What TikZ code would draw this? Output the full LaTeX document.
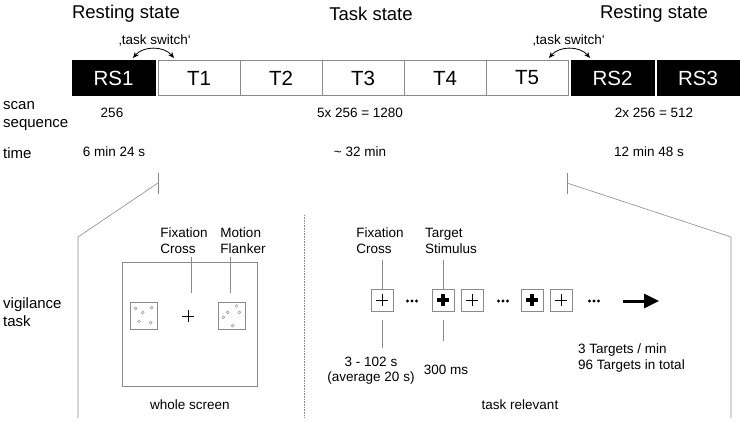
\documentclass[tikz,border=0pt]{standalone}
\usepackage{fontspec}
\setmainfont{Liberation Sans}
\usepackage{tikz}
\usetikzlibrary{arrows.meta,positioning}

\definecolor{linegray}{HTML}{8A8A8A}

\begin{document}
\begin{tikzpicture}[x=1pt,y=-1pt,
    title/.style={font=\fontsize{18.5}{20}\selectfont},
    rsbox/.style={draw=black,fill=black,text=white,minimum width=83pt,minimum height=35pt,inner sep=0pt,font=\fontsize{20.5}{22}\selectfont},
    taskbox/.style={draw=linegray,fill=white,line width=0.8pt,minimum width=82pt,minimum height=35pt,inner sep=0pt,font=\fontsize{20.5}{22}\selectfont},
    rowlbl/.style={font=\fontsize{15}{18}\selectfont,align=left,anchor=west,inner sep=0pt},
    val/.style={font=\fontsize{13.5}{17}\selectfont,inner sep=0pt},
    small/.style={font=\fontsize{13.5}{16}\selectfont,inner sep=0pt},
    zoomline/.style={draw=linegray,line width=0.6pt},
    stimbox/.style={draw=linegray,line width=0.6pt,minimum size=22pt,inner sep=0pt},
    dotbox/.style={draw=linegray,line width=0.6pt,minimum size=27pt,inner sep=0pt},
    swarrow/.style={{Stealth[length=6pt,width=5pt]}-{Stealth[length=6pt,width=5pt]},line width=0.8pt,bend left=50}]
\useasboundingbox (0,0) rectangle (744,422);

% titles
\node[title] (rest1) at (126,14) {Resting state};
\node[title] (task) at (371,14) {Task state};
\node[title] (rest2) at (654,14) {Resting state};

% scan blocks
\node[rsbox] (rs1) at (113.5,78) {RS1};
\foreach \i in {1,...,5}{
    \node[taskbox] (t\i) at ({199+82*(\i-1)},78) {T\i};
}
\node[rsbox] (rs2) at (612.5,78) {RS2};
\node[rsbox,minimum width=82pt] (rs3) at (698,78) {RS3};

% task switch
\coordinate (swa) at (133,58);
\coordinate (swb) at (174,58);
\coordinate (swc) at (549,58);
\coordinate (swd) at (590,58);
\draw[swarrow] (swa) to (swb);
\draw[swarrow] (swc) to (swd);
\node[small] (sw1) at (155,40) {‚task switch‘};
\node[small] (sw2) at (569,40) {‚task switch‘};

% rows
\node[rowlbl] (scan) at (3,116) {scan\\sequence};
\node[val] (n1) at (112,113) {256};
\node[val] (n2) at (360,113) {5x 256 = 1280};
\node[val] (n3) at (654,113) {2x 256 = 512};
\node[rowlbl] (time) at (3,153) {time};
\node[val] (d1) at (114,152) {6 min 24 s};
\node[val] (d2) at (360,152) {\textasciitilde{} 32 min};
\node[val] (d3) at (649,152) {12 min 48 s};
\node[rowlbl] (vig) at (3,312) {vigilance\\task};

% zoom lines
\coordinate (la) at (158,173);
\coordinate (lb) at (158,194);
\coordinate (lc) at (158,183);
\coordinate (ld) at (78,237);
\coordinate (le) at (78,418);
\coordinate (ra) at (567,173);
\coordinate (rb) at (567,194);
\coordinate (rc) at (567,183);
\coordinate (rd) at (731,237);
\coordinate (re) at (731,418);
\draw[zoomline] (la) -- (lb);
\draw[zoomline] (lc) -- (ld) -- (le);
\draw[zoomline] (ra) -- (rb);
\draw[zoomline] (rc) -- (rd) -- (re);
\coordinate (sepa) at (304,215);
\coordinate (sepb) at (304,418);
\draw[linegray,densely dotted,line width=0.6pt] (sepa) -- (sepb);

% whole screen
\node[draw=linegray,line width=0.6pt,minimum width=135pt,minimum height=124pt] (screen) at (189.5,324) {};
\node[dotbox] (dotsl) at (143.5,315.5) {};
\node[dotbox] (dotsr) at (232,315.5) {};
\foreach \p in {(135.7,308.3),(142.7,312.7),(151.7,307.7),(139,321.7),(150.7,322.7),
                (236.7,306),(227.7,312.3),(239.3,312.3),(223.3,317.3),(232.7,325.7)}{
    \draw[linegray,line width=0.4pt] \p circle (1.5);
}
\coordinate (fix) at (188,316);
\draw[line width=0.6pt] ([xshift=-6pt]fix) -- ([xshift=6pt]fix);
\draw[line width=0.6pt] ([yshift=-6pt]fix) -- ([yshift=6pt]fix);
\node[small,align=left] (fixlbl) at (184,241) {Fixation\\Cross};
\node[small,align=left] (motlbl) at (243,241) {Motion\\Flanker};
\coordinate (fixtop) at (191,257);
\coordinate (fixbot) at (191,293);
\coordinate (mottop) at (230,257);
\coordinate (motbot) at (230,293);
\draw[zoomline] (fixtop) -- (fixbot);
\draw[zoomline] (mottop) -- (motbot);
\node[small] (whole) at (190,405) {whole screen};

% task relevant
\foreach \x/\n in {382/s1,472/s3,561/s5}{
    \node[stimbox] (\n) at (\x,300) {};
    \draw[line width=0.6pt] ([xshift=-6pt]\n.center) -- ([xshift=6pt]\n.center);
    \draw[line width=0.6pt] ([yshift=-6pt]\n.center) -- ([yshift=6pt]\n.center);
}
\foreach \x/\n in {443/s2,532/s4}{
    \node[stimbox] (\n) at (\x,300) {};
    \draw[line width=3.4pt] ([xshift=-6pt]\n.center) -- ([xshift=6pt]\n.center);
    \draw[line width=3.4pt] ([yshift=-6pt]\n.center) -- ([yshift=6pt]\n.center);
}
\foreach \x in {412,503,594}{
    \foreach \d in {-4.5,0,4.5}{
        \fill ({\x+\d},301) circle (1.6);
    }
}
\coordinate (arra) at (623,301);
\coordinate (arrb) at (659,301);
\draw[line width=3pt,-{Triangle[length=15pt,width=14pt]}] (arra) -- (arrb);

\node[small,align=left] (crosslbl) at (380,241) {Fixation\\Cross};
\node[small,align=left] (targlbl) at (451,241) {Target\\Stimulus};
\coordinate (c1a) at (382,260);
\coordinate (t1a) at (443,260);
\coordinate (c1b) at (382,348);
\coordinate (t1b) at (443,341);
\draw[zoomline] (c1a) -- (s1.north);
\draw[zoomline] (t1a) -- (s2.north);
\draw[zoomline] (s1.south) ++(0,9) -- (c1b);
\draw[zoomline] (s2.south) ++(0,9) -- (t1b);
\node[small] (dur1) at (371,362) {3 - 102 s};
\node[small] (dur2) at (371,378) {(average 20 s)};
\node[small] (dur3) at (446,370) {300 ms};
\node[small,anchor=west,align=left] (rate) at (578,358) {3 Targets / min\\96 Targets in total};
\node[small] (rel) at (520,405) {task relevant};
\end{tikzpicture}
\end{document}
